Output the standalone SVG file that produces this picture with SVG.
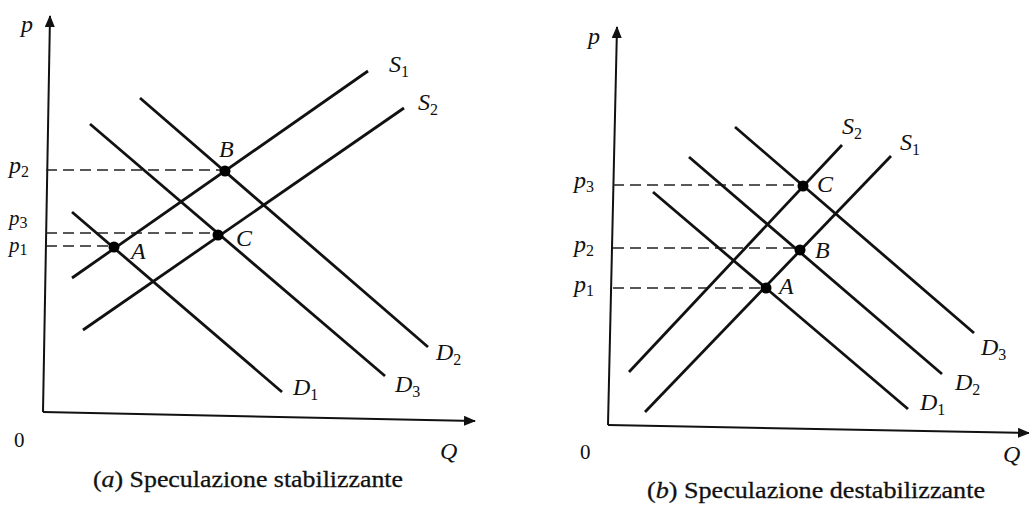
<svg xmlns="http://www.w3.org/2000/svg" width="1029" height="509" viewBox="0 0 1029 509">
<defs>
<marker id="arr" viewBox="0 0 12 10" refX="11" refY="5" markerWidth="12" markerHeight="10" markerUnits="userSpaceOnUse" orient="auto">
<path d="M0,0 L12,5 L0,10 Z" fill="#111"/>
</marker>
<style>
.ax{stroke:#111;stroke-width:2;fill:none}
.cv{stroke:#111;stroke-width:2.8;fill:none;stroke-linecap:butt}
.ds{stroke:#222;stroke-width:1.6;stroke-dasharray:11 6;fill:none}
.pt{fill:#000}
text{font-family:"Liberation Serif","Times New Roman",serif;fill:#111}
.it{font-style:italic;font-size:24px}
.sm{font-style:italic;font-size:21px}
.sb{font-style:normal;font-size:16px}
.zero{font-size:21px}
.cap{font-size:24px;stroke:#111;stroke-width:0.3}
</style>
</defs>
<rect width="1029" height="509" fill="#fff"/>

<g id="panel-a">
<g id="axes-a">
<line class="ax" x1="43" y1="412" x2="50" y2="16" marker-end="url(#arr)"/>
<line class="ax" x1="43" y1="412" x2="475" y2="421" marker-end="url(#arr)"/>
<text class="it" x="21" y="32">p</text>
<text class="it" x="440" y="459">Q</text>
<text class="zero" x="14" y="447">0</text>
</g>
<g id="connectors-a">
<line class="ds" x1="46" y1="170" x2="225" y2="170"/>
<line class="ds" x1="46" y1="233" x2="218" y2="233"/>
<line class="ds" x1="46" y1="246" x2="114" y2="246"/>
<line id="S1a" class="cv" x1="72" y1="278" x2="368" y2="71"/>
<line id="S2a" class="cv" x1="83" y1="330" x2="404" y2="108"/>
<line id="D1a" class="cv" x1="72" y1="212" x2="282" y2="392"/>
<line id="D3a" class="cv" x1="90" y1="124" x2="385" y2="376"/>
<line id="D2a" class="cv" x1="140" y1="98" x2="428" y2="347"/>
</g>
<g id="labels-a">
<text class="it" x="9" y="173">p<tspan class="sb" dy="4">2</tspan></text>
<text class="sm" x="9" y="225">p<tspan class="sb" dy="3">3</tspan></text>
<text class="sm" x="9" y="252">p<tspan class="sb" dy="3">1</tspan></text>
<text class="it" x="389" y="72">S<tspan class="sb" dy="5">1</tspan></text>
<text class="it" x="418" y="110">S<tspan class="sb" dy="5">2</tspan></text>
<text class="it" x="293" y="395">D<tspan class="sb" dy="5">1</tspan></text>
<text class="it" x="395" y="392">D<tspan class="sb" dy="5">3</tspan></text>
<text class="it" x="436" y="360">D<tspan class="sb" dy="5">2</tspan></text>
</g>
<g id="A-a"><circle class="pt" cx="114" cy="247" r="5.5"/><text class="it" x="131" y="259">A</text></g>
<g id="B-a"><circle class="pt" cx="225" cy="171" r="5.5"/><text class="it" x="219" y="157">B</text></g>
<g id="C-a"><circle class="pt" cx="218" cy="235" r="5.5"/><text class="it" x="236" y="246">C</text></g>
<text class="cap" x="93" y="487" textLength="310" lengthAdjust="spacingAndGlyphs">(<tspan font-style="italic">a</tspan>) Speculazione stabilizzante</text>
</g>

<g id="panel-b">
<g id="axes-b">
<line class="ax" x1="608" y1="425" x2="617" y2="27" marker-end="url(#arr)"/>
<line class="ax" x1="608" y1="425" x2="1029" y2="433" marker-end="url(#arr)"/>
<text class="it" x="588" y="44">p</text>
<text class="it" x="1003" y="462">Q</text>
<text class="zero" x="580" y="459">0</text>
</g>
<g id="connectors-b">
<line class="ds" x1="613" y1="185" x2="803" y2="185"/>
<line class="ds" x1="613" y1="248" x2="799" y2="248"/>
<line class="ds" x1="613" y1="288" x2="766" y2="288"/>
<line id="S1b" class="cv" x1="645" y1="412" x2="891" y2="156"/>
<line id="S2b" class="cv" x1="629" y1="372" x2="842" y2="145"/>
<line id="D1b" class="cv" x1="653" y1="192" x2="908" y2="409"/>
<line id="D2b" class="cv" x1="689" y1="157" x2="942" y2="374"/>
<line id="D3b" class="cv" x1="735" y1="127" x2="974" y2="333"/>
</g>
<g id="labels-b">
<text class="it" x="574" y="188">p<tspan class="sb" dy="4">3</tspan></text>
<text class="it" x="574" y="252">p<tspan class="sb" dy="4">2</tspan></text>
<text class="it" x="574" y="292">p<tspan class="sb" dy="4">1</tspan></text>
<text class="it" x="842" y="134">S<tspan class="sb" dy="5">2</tspan></text>
<text class="it" x="900" y="150">S<tspan class="sb" dy="5">1</tspan></text>
<text class="it" x="981" y="355">D<tspan class="sb" dy="5">3</tspan></text>
<text class="it" x="955" y="390">D<tspan class="sb" dy="5">2</tspan></text>
<text class="it" x="920" y="410">D<tspan class="sb" dy="5">1</tspan></text>
</g>
<g id="A-b"><circle class="pt" cx="766" cy="288" r="5.5"/><text class="it" x="779" y="294">A</text></g>
<g id="B-b"><circle class="pt" cx="800" cy="250" r="5.5"/><text class="it" x="815" y="258">B</text></g>
<g id="C-b"><circle class="pt" cx="803" cy="186" r="5.5"/><text class="it" x="817" y="192">C</text></g>
<text class="cap" x="647" y="498" textLength="338" lengthAdjust="spacingAndGlyphs">(<tspan font-style="italic">b</tspan>) Speculazione destabilizzante</text>
</g>
</svg>
